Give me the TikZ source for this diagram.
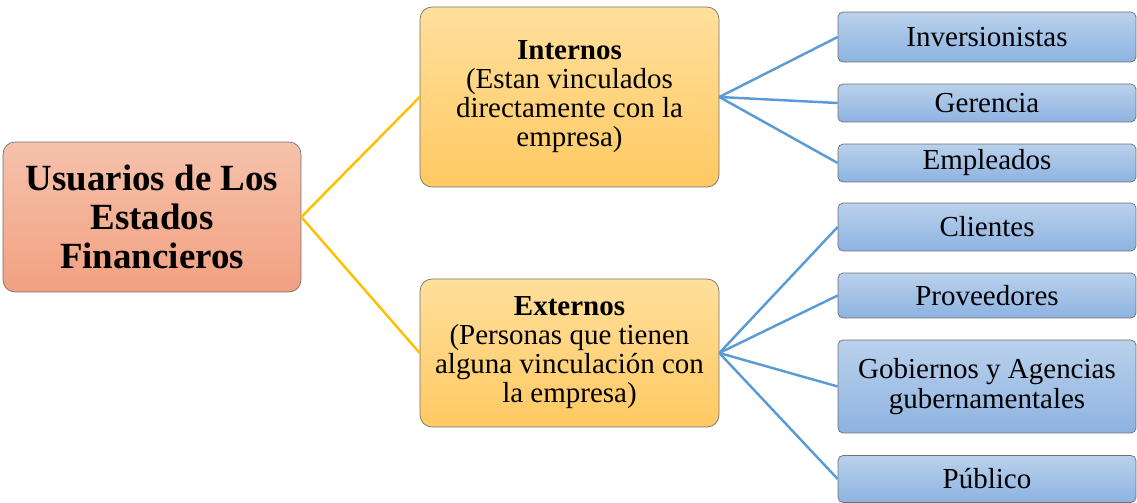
\documentclass[tikz,border=0pt]{standalone}
\usepackage{fontspec}
\setmainfont{Liberation Serif}
\definecolor{rootTop}{HTML}{F6C2AB}
\definecolor{rootBot}{HTML}{F2A081}
\definecolor{midTop}{HTML}{FFDF9C}
\definecolor{midBot}{HTML}{FFC962}
\definecolor{leafTop}{HTML}{BAD1EC}
\definecolor{leafBot}{HTML}{8DB3E1}
\definecolor{edgeGray}{HTML}{6F6F6F}
\definecolor{lineOrange}{HTML}{FFC000}
\definecolor{lineBlue}{HTML}{5B9BD5}
\tikzset{
  rootbox/.style={draw=edgeGray, rounded corners=0.24cm, top color=rootTop, bottom color=rootBot,
    minimum width=5.96cm, minimum height=3cm, align=center, inner sep=0pt,
    font=\fontsize{21}{22}\selectfont\bfseries},
  groupbox/.style={draw=edgeGray, rounded corners=0.24cm, top color=midTop, bottom color=midBot,
    minimum width=5.98cm, align=center, inner sep=0pt,
    font=\fontsize{16.5}{16.5}\selectfont},
  leafbox/.style={draw=edgeGray, rounded corners=0.1cm, top color=leafTop, bottom color=leafBot,
    minimum width=5.96cm, align=center, inner sep=0pt,
    font=\fontsize{16.5}{17}\selectfont},
  orangeline/.style={lineOrange, line width=1.4pt},
  blueline/.style={lineBlue, line width=1.4pt}
}
\begin{document}
\begin{tikzpicture}[x=0.02cm, y=-0.02cm]
  \useasboundingbox (0,0) rectangle (1137,503);
  \node[rootbox] (UA) at (152,217) {Usuarios de Los\\Estados\\Financieros};
  \node[groupbox, minimum height=3.6cm] (UB) at (569.5,97) {\textbf{Internos}\\(Estan vinculados\\directamente con la\\empresa)};
  \node[groupbox, minimum height=2.96cm] (UC) at (569.5,353) {\textbf{Externos}\\(Personas que tienen\\alguna vinculación con\\la empresa)};

  \node[leafbox, minimum height=1cm] (BA) at (987,37) {Inversionistas};
  \node[leafbox, minimum height=0.76cm] (BB) at (987,103) {Gerencia};
  \node[leafbox, minimum height=0.76cm] (BC) at (987,163) {Empleados};
  \node[leafbox, minimum height=0.96cm] (BD) at (987,227) {Clientes};
  \node[leafbox, minimum height=0.9cm] (BE) at (987,295.5) {Proveedores};
  \node[leafbox, minimum height=1.86cm] (BF) at (987,386.5) {Gobiernos y Agencias\\gubernamentales};
  \node[leafbox, minimum height=0.94cm] (BG) at (987,479) {Público};

  \draw[orangeline] (UA.east)--(UB.west);
  \draw[orangeline] (UA.east)--(UC.west);
  \draw[blueline] (UB.east)--(BA.west);
  \draw[blueline] (UB.east)--(BB.west);
  \draw[blueline] (UB.east)--(BC.west);
  \draw[blueline] (UC.east)--(BD.west);
  \draw[blueline] (UC.east)--(BE.west);
  \draw[blueline] (UC.east)--(BF.west);
  \draw[blueline] (UC.east)--(BG.west);
\end{tikzpicture}
\end{document}
